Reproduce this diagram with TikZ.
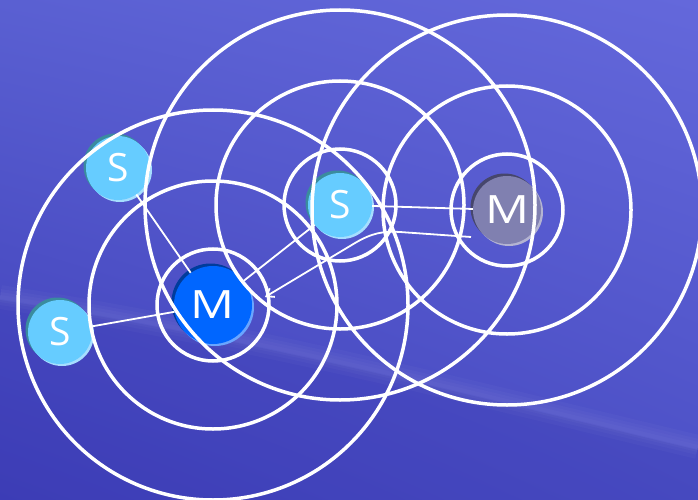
\documentclass[tikz,border=0pt]{standalone}
\usepackage{fontspec}
\setmainfont{Open Sans}
\usetikzlibrary{arrows.meta,shadings}
\definecolor{bgTL}{HTML}{5A60D2}
\definecolor{bgTR}{HTML}{6468DB}
\definecolor{bgBL}{HTML}{3E3EB8}
\definecolor{bgBR}{HTML}{4C50C6}
\definecolor{bandDark}{HTML}{3A3AB2}
\definecolor{sMain}{HTML}{66CCFF}
\definecolor{sDark}{HTML}{3A8C9E}
\definecolor{sLight}{HTML}{A6DEFF}
\definecolor{mMain}{HTML}{0066FF}
\definecolor{mDark}{HTML}{003C9C}
\definecolor{mLight}{HTML}{6AA6FF}
\definecolor{gMain}{HTML}{8080B0}
\definecolor{gDark}{HTML}{46466C}
\definecolor{gLight}{HTML}{B4B4D2}
\newcommand\mydisc[8]{%
  \fill[#6] (#2-2.5,#3-2.5) circle[radius=#4];
  \fill[#7] (#2+2,#3+2) circle[radius=#4];
  \node[disc,fill=#5,minimum size={2*#4pt}] (#1) at (#2,#3) {#8};
}
\tikzset{
  disc/.style={circle,inner sep=0pt,text=white,font=\fontsize{39}{39}\selectfont},
  ring/.style={draw=white,line width=3.5pt},
  conn/.style={draw=white,line width=1.8pt},
  tip/.style={-{Straight Barb[length=7pt,width=10pt]}}
}
\begin{document}
\begin{tikzpicture}[x=1pt,y=-1pt]
\useasboundingbox (0,0) rectangle (698,500);
\shade[upper left=bgTL,upper right=bgTR,lower left=bgBL,lower right=bgBR] (0,0) rectangle (698,500);
\fill[bandDark,opacity=0.3] (0,300) .. controls (250,338) and (480,398) .. (698,450) -- (698,500) -- (0,500) -- cycle;
\foreach \w in {4,10,16,24}{
  \draw[white,opacity=0.025,line width=\w pt] (0,297) .. controls (250,335) and (480,395) .. (698,447);
}
% connector way points
\coordinate (a1) at (471,237);
\coordinate (b1) at (400,232);
\coordinate (b2) at (355,243);
\coordinate (a2) at (265,297);
% discs
\mydisc{m1}{213}{305}{39}{mMain}{mDark}{mLight}{\scalebox{1.25}[1]{M}}
\mydisc{m2}{507}{210}{34}{gMain}{gDark}{gLight}{\scalebox{1.25}[1]{M}}
\mydisc{s1}{118}{168}{32}{sMain}{sDark}{sLight}{S}
\mydisc{s2}{60}{332}{32}{sMain}{sDark}{sLight}{S}
\mydisc{s3}{340}{205}{32}{sMain}{sDark}{sLight}{S}
\draw[conn] (s1) -- (m1);
\draw[conn] (s2) -- (m1);
\draw[conn] (s3) -- (m1);
\draw[conn] (s3) -- (m2);
% rings
\foreach \c in {m1,s3,m2}{
  \foreach \r in {56,124,195}{
    \draw[ring] (\c.center) circle[radius=\r pt];
  }
}
\draw[conn,tip] (a1) -- (b1) .. controls (383,231) and (372,233) .. (b2) -- (a2);
\end{tikzpicture}
\end{document}
